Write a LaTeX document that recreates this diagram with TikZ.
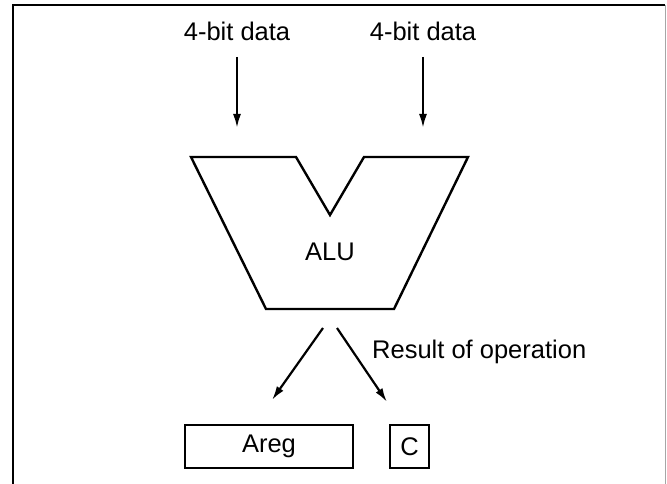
\documentclass[tikz,border=0pt]{standalone}
\usepackage{fontspec}
\setmainfont{Liberation Sans}
\usetikzlibrary{arrows.meta}
\begin{document}
\begin{tikzpicture}[x=1pt,y=-1pt,
  lbl/.style={font=\fontsize{25.5}{30}\selectfont, inner sep=0pt},
  regbox/.style={draw, line width=2.4pt, minimum height=43pt, inner sep=0pt, font=\fontsize{25.5}{30}\selectfont},
  conn/.style={line width=2.2pt, -{Latex[length=14pt,width=8pt]}},
  outline/.style={line width=2.4pt, line join=miter}]
\useasboundingbox (0,0) rectangle (667,484);
% frame
\draw[line width=1.8pt] (13,484) -- (13,5) -- (665,5);
\draw[line width=0.9pt, gray!70] (665,5) -- (665,484);
% inputs
\node[lbl] (inA) at (237,31) {4-bit data};
\node[lbl] (inB) at (423,31) {4-bit data};
\coordinate (aS) at (237,57);
\coordinate (aE) at (237,128);
\coordinate (bS) at (423,57);
\coordinate (bE) at (423,128);
\draw[conn] (aS) -- (aE);
\draw[conn] (bS) -- (bE);
% ALU
\draw[outline] (191,157) -- (296,157) -- (330,215) -- (364,157) -- (468,157) -- (394,309) -- (266,309) -- cycle;
\node[lbl] (alu) at (330,252) {ALU};
% outputs
\coordinate (oL) at (323,328);
\coordinate (oR) at (337,328);
\coordinate (eL) at (272,400);
\coordinate (eR) at (387,402);
\draw[conn] (oL) -- (eL);
\draw[conn] (oR) -- (eR);
\node[lbl, anchor=west] (res) at (372,352) {Result of operation};
% registers
\node[regbox, minimum width=168pt] (areg) at (269,446.5) {Areg};
\node[regbox, minimum width=39pt] (creg) at (409.5,446.5) {C};
\end{tikzpicture}
\end{document}
